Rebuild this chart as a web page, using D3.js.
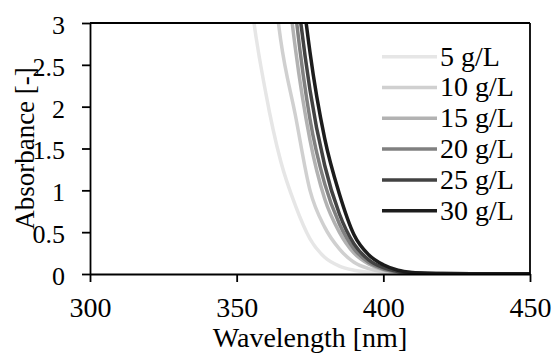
<!DOCTYPE html>
<html>
<head>
<meta charset="utf-8">
<script src="https://cdn.jsdelivr.net/npm/d3@7"></script>
<style>
  body { margin: 0; background: #fff; }
  svg text { font-family: 'Liberation Serif', Times, 'DejaVu Serif', serif !important; fill: #000; }
</style>
</head>
<body>
<div id="chart"></div>
<script>
// wavelengths in nm, absorbance
const wavelengths = [350, 355, 360, 365, 370, 375, 380, 385, 390, 395, 400, 405, 410, 415, 420, 430, 440, 450];
const seriesNames = ["5 g/L", "10 g/L", "15 g/L", "20 g/L", "25 g/L", "30 g/L"];
const seriesColors = ["#e6e6e6", "#d0d0d0", "#b2b2b2", "#808080", "#424242", "#1c1c1c"];
const abs5 = [5.2, 3.25, 2.15, 1.35, 0.82, 0.42, 0.2, 0.095, 0.045, 0.02, 0.009, 0.005, 0.003, 0.002, 0.002, 0.001, 0.001, 0.001];
const abs10 = [null, 6.5, 4.4, 2.8, 1.9, 1.0, 0.56, 0.3, 0.14, 0.065, 0.028, 0.012, 0.006, 0.004, 0.003, 0.002, 0.002, 0.002];
const abs15 = [null, null, 6.4, 4.3, 2.7, 1.6, 0.9, 0.5, 0.25, 0.12, 0.05, 0.02, 0.009, 0.005, 0.004, 0.003, 0.002, 0.002];
const abs20 = [null, null, null, 5.1, 3.15, 1.85, 1.08, 0.6, 0.3, 0.14, 0.06, 0.025, 0.011, 0.006, 0.004, 0.003, 0.003, 0.002];
const abs25 = [null, null, null, 5.8, 3.6, 2.2, 1.3, 0.72, 0.36, 0.17, 0.075, 0.03, 0.013, 0.007, 0.005, 0.004, 0.003, 0.003];
const abs30 = [null, null, null, 6.6, 4.2, 2.65, 1.62, 0.96, 0.47, 0.23, 0.11, 0.045, 0.018, 0.009, 0.006, 0.004, 0.003, 0.003];
const seriesValues = [abs5, abs10, abs15, abs20, abs25, abs30];
const xTicks = [300, 350, 400, 450];
const yTicks = [0, 0.5, 1, 1.5, 2, 2.5, 3];

const W = 555, H = 359;
const margin = { top: 23, right: 25, bottom: 85, left: 90 };
const fontSize = 28;
const serif = "'Liberation Serif', Times, 'DejaVu Serif', serif";

const svg = d3.select("#chart").append("svg")
  .attr("width", W)
  .attr("height", H)
  .style("font-family", serif);

const x = d3.scaleLinear().domain([300, 450]).range([margin.left, W - margin.right]);
const y = d3.scaleLinear().domain([0, 3]).range([H - margin.bottom, margin.top]);

svg.append("clipPath").attr("id", "plotClip")
  .append("rect")
  .attr("x", x(300)).attr("y", y(3))
  .attr("width", x(450) - x(300)).attr("height", y(0) - y(3));

// curves, lightest first so black sits on top
const line = d3.line()
  .defined(d => d.v != null)
  .x(d => x(d.w))
  .y(d => y(d.v))
  .curve(d3.curveMonotoneX);

const curves = svg.append("g").attr("clip-path", "url(#plotClip)");
seriesValues.forEach((vals, i) => {
  curves.append("path")
    .datum(wavelengths.map((w, j) => ({ w, v: vals[j] })))
    .attr("fill", "none")
    .attr("stroke", seriesColors[i])
    .attr("stroke-width", 3.5)
    .attr("d", line);
});

// frame top and right
svg.append("line")
  .attr("x1", x(300)).attr("x2", x(450))
  .attr("y1", y(3)).attr("y2", y(3))
  .attr("stroke", "#000").attr("stroke-width", 1.8);
svg.append("line")
  .attr("x1", x(450)).attr("x2", x(450))
  .attr("y1", y(3)).attr("y2", y(0))
  .attr("stroke", "#000").attr("stroke-width", 1.8);

const xAxis = svg.append("g")
  .attr("transform", `translate(0,${y(0)})`)
  .call(d3.axisBottom(x).tickValues(xTicks).tickFormat(d => String(d))
    .tickSize(8).tickSizeOuter(0).tickPadding(15));

const yAxis = svg.append("g")
  .attr("transform", `translate(${x(300)},0)`)
  .call(d3.axisLeft(y).tickValues(yTicks).tickFormat(d => String(d))
    .tickSize(8).tickSizeOuter(0).tickPadding(17));

[xAxis, yAxis].forEach(g => {
  g.attr("font-family", null).attr("font-size", null);
  g.select(".domain").attr("stroke", "#000").attr("stroke-width", 1.8);
  g.selectAll(".tick line").attr("stroke", "#000").attr("stroke-width", 1.8);
  g.selectAll(".tick text")
    .style("font-family", serif)
    .attr("fill", "#000");
});
xAxis.selectAll(".tick text").attr("font-size", fontSize);
yAxis.selectAll(".tick text").attr("font-size", 26).attr("dy", "0.4em");

svg.append("text")
  .attr("x", (x(300) + x(450)) / 2)
  .attr("y", 347)
  .attr("text-anchor", "middle")
  .attr("font-size", fontSize)
  .style("font-family", serif)
  .text("Wavelength [nm]");

svg.append("text")
  .attr("transform", `translate(34,${(y(0) + y(3)) / 2}) rotate(-90)`)
  .attr("text-anchor", "middle")
  .attr("font-size", 27)
  .style("font-family", serif)
  .text("Absorbance [-]");

// legend
const legend = svg.append("g");
seriesNames.forEach((name, i) => {
  const ly = 56.7 + i * 30.8;
  legend.append("line")
    .attr("x1", 382).attr("x2", 437)
    .attr("y1", ly).attr("y2", ly)
    .attr("stroke", seriesColors[i])
    .attr("stroke-width", 3.5);
  legend.append("text")
    .attr("x", 440)
    .attr("y", ly)
    .attr("dy", "0.32em")
    .attr("font-size", fontSize)
    .style("font-family", serif)
    .text(name);
});
</script>
</body>
</html>
